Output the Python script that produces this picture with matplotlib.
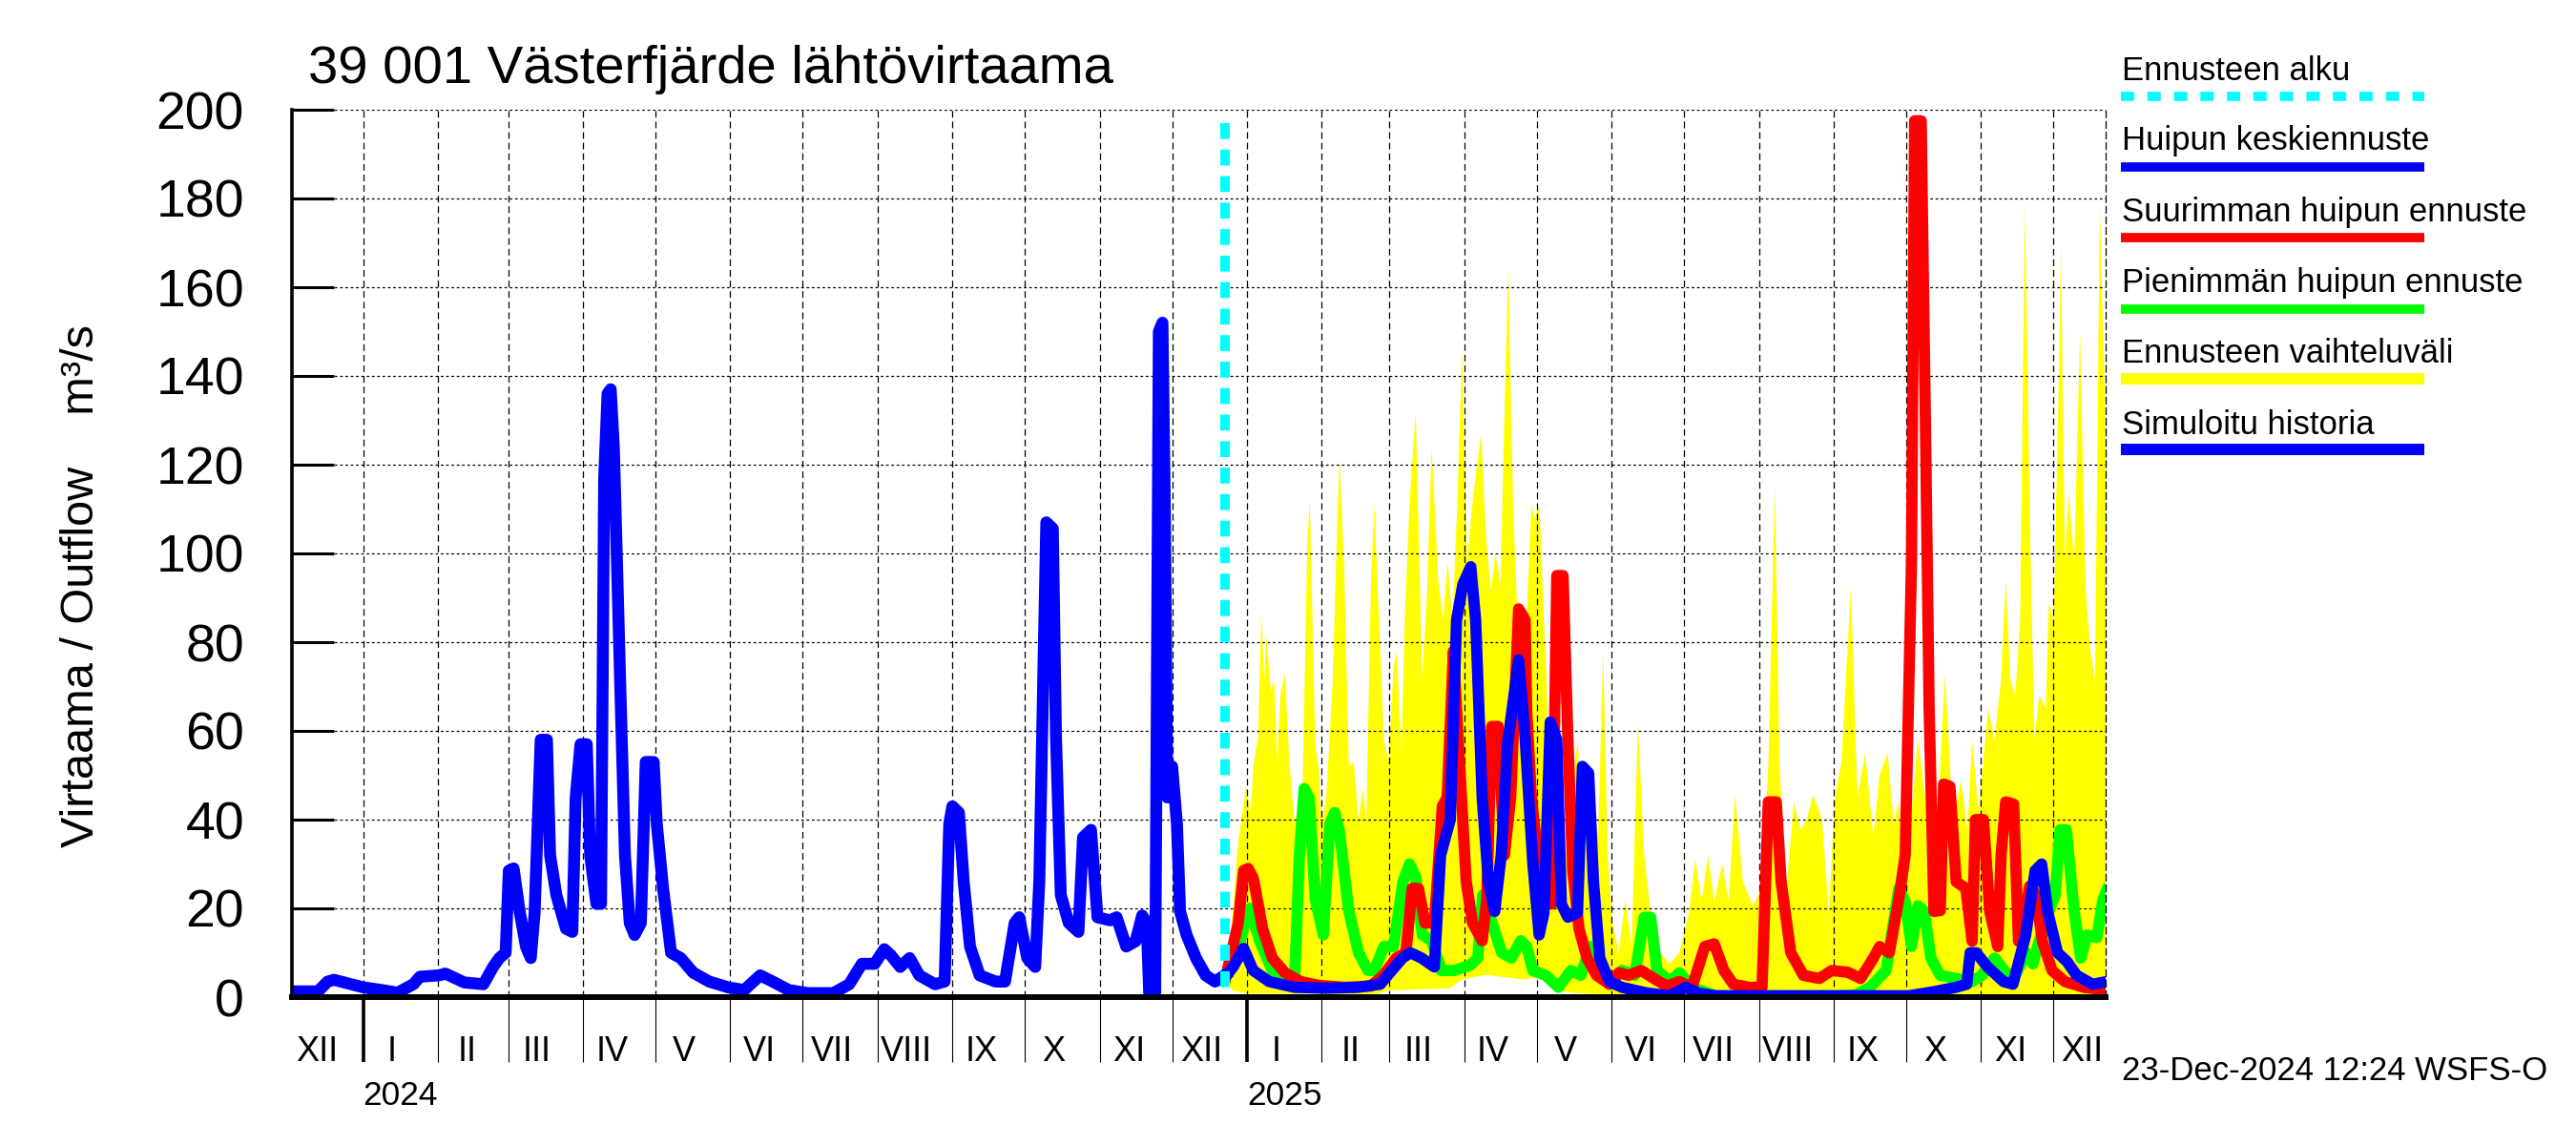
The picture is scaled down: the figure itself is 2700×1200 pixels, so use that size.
import numpy as np
import matplotlib
matplotlib.use('Agg')
import matplotlib.pyplot as plt
import matplotlib.dates as mdates
import matplotlib.transforms as mtransforms
from matplotlib.lines import Line2D
from datetime import datetime

plt.rcParams['font.family'] = ['Liberation Sans', 'DejaVu Sans']
plt.rcParams['lines.scale_dashes'] = False

# ---------------- data (day offsets from 2024-01-01, flow m3/s) ----------------
BASE = datetime(2024, 1, 1)

hist_day = [-30.5, -18.7, -14.7, -12.1, 0, 7.6, 14.2, 20.8, 23.5, 31.4, 34, 41.9, 49.8, 53.8,
            56.4, 59, 60.3, 62.3, 64.8, 67.4, 69.4, 71, 73.5, 76.1, 77.4, 80, 84, 86.6, 88,
            90, 92.6, 94, 96.6, 98.5, 99.8, 101.2, 102.5, 103.8, 105.1, 106.4, 108.4, 110.4,
            112.4, 115, 117, 120.3, 121.6, 124.2, 127.5, 131.5, 136.7, 143.3, 151.2, 157.8,
            164.4, 169.6, 176.2, 184.1, 194.7, 201.3, 206.5, 211.8, 215.8, 218.4, 222.4,
            226.3, 230.3, 236.8, 240.8, 242.7, 244, 246.7, 248.7, 251.3, 255.3, 261.9, 265.8,
            269.8, 271.7, 275, 278.3, 280, 282.9, 285.6, 286.9, 288.9, 292.2, 296.2, 298.1,
            301.4, 304.1, 309.3, 312, 316, 319.9, 322.6, 324.5, 325.5, 328, 329.5, 331, 332,
            333, 335, 337, 338.3, 341, 344.9, 348.9, 352.8, 357]
hist_flow = [1.3, 1.3, 3.5, 3.9, 2.2, 1.6, 1.0, 2.9, 4.6, 4.9, 5.3, 3.3, 2.9, 6.8,
             8.8, 10, 28.5, 29, 19.3, 11.4, 8.8, 19, 58, 58, 32, 23, 15.4, 14.7, 45,
             57, 57, 32, 21, 21, 117, 136, 137, 124, 98, 71.5, 32, 16.7,
             14, 16.7, 53, 53, 39, 24.5, 10, 8.8, 5.5, 3.5, 2.2, 1.6,
             4.9, 3.5, 1.6, 0.9, 0.9, 2.9, 7.5, 7.5, 10.8, 9.5, 6.8,
             8.8, 4.9, 2.9, 3.5, 39, 43, 41.6, 26, 11.4, 4.9, 3.5, 3.5,
             16.7, 18, 8.8, 6.8, 26, 107, 105.6, 58.7, 23, 16.7, 14.7, 36,
             37.7, 18, 17.3, 18, 11.4, 12.6, 18.4, 16.7, 1, 1, 150, 152, 110,
             45, 52, 39, 19.3, 14, 8.8, 4.9, 3.5, 5]

mean_day = [357, 360.5, 364.6, 368.6, 375.2, 385.7, 398.8, 412, 421.2, 425.2, 430.4, 433.7,
            438.3, 443.6, 446.2, 450.2, 452.8, 455.4, 458.7, 460.7, 463.4, 466, 468.6, 471.3,
            473.9, 478.5, 481, 484.4, 487, 489, 491.6, 494.3, 496.2, 498.9, 502.9, 504.9,
            507.5, 509.5, 512.1, 516.1, 521.3, 531.9, 541.1, 547.7, 553, 560, 600, 640,
            650.3, 659.5, 664.1, 665.5, 668, 672.7, 679.3, 683.2, 688.5, 692.4, 695.1,
            697.7, 701.7, 705.6, 709.6, 716.2, 722]
mean_flow = [4.5, 7, 11, 6, 3.5, 2.2, 2, 2.2, 2.9, 5.5, 8.8, 10,
             8.8, 6.8, 32, 40, 85, 93, 97, 85, 45, 26, 19.3, 32,
             57, 76, 60, 30, 14, 19, 62, 58, 21, 18, 19, 52,
             50.5, 26, 8.8, 3.5, 2.2, 0.9, 0.3, 2.2, 0.9, 0.3, 0.3, 0.3,
             1.2, 2.2, 2.9, 10, 10, 6.8, 3.5, 2.9, 14, 28.5, 30,
             19, 10, 8, 4.9, 2.9, 3.5]

max_day = [357, 362.4, 364.6, 366.5, 368.6, 372.5, 376.5, 381.7, 388.3, 396.2, 406.8, 417.3,
           422.5, 427.8, 431.8, 434.4, 437, 439.7, 443.6, 446.9, 448.9, 451.5, 454.1, 456.8,
           459.4, 463.4, 465.3, 467.3, 470, 472.6, 475.2, 478.5, 481.2, 481.8, 483.8, 486.4,
           489.7, 492.3, 494.3, 496.9, 498.9, 500.9, 503.5, 506.8, 510.8, 516.1, 520, 524,
           529.3, 534.5, 539.8, 545.1, 550.3, 555.6, 559.5, 563.5, 567.4, 574, 579.3, 581.9,
           585.2, 587.2, 591.2, 596.4, 603, 608.2, 614.8, 620.1, 625.4, 628, 632, 635.9,
           638.6, 641.2, 642.5, 645.2, 647.1, 648.5, 650.5, 653.1, 654.5, 657.1, 659.7,
           663.7, 666.3, 667.7, 671, 673.6, 676.9, 678.3, 680.2, 683.5, 685.5, 687.5, 690.1,
           692.8, 695.4, 699.4, 704.7, 712.6, 722]
max_flow = [4, 16.7, 28.5, 29, 26.8, 15.4, 8.8, 5.5, 3.5, 2.6, 2.2, 2.5,
            4.9, 8.8, 10, 24.5, 24.5, 16.7, 16.7, 43, 45, 78, 52, 26,
            16.7, 12.7, 22, 61, 61, 32, 45, 87.5, 85, 65, 45, 32,
            21, 21, 95, 95, 58, 28.5, 15.4, 8.8, 4.9, 2.9, 5.5, 4.9,
            6, 4.2, 2.5, 3.5, 2.2, 11.4, 12, 6, 2.9, 2.2, 2.2, 44,
            44, 26, 10, 4.9, 4.2, 6, 5.6, 4.2, 8.8, 11.4, 10, 22,
            32, 98, 197.5, 197.5, 124, 65, 19.3, 19.5, 48, 47.5, 26,
            24.5, 12.6, 40, 40, 19.3, 11.4, 32, 44, 43.5, 12.6, 15.4, 25,
            23, 12.6, 6, 3.5, 2.2, 1.6]

min_day = [357, 363.3, 366, 367.3, 371.2, 376.5, 381.7, 385.7, 387.7, 389.7, 391.7, 394.3,
           397.6, 400.3, 402.3, 404.2, 408.2, 412.2, 416.1, 418.7, 422.7, 426.7, 430.6, 433.3,
           435.9, 438.6, 442.5, 446.5, 451.8, 458.4, 461.6, 463.6, 467.5, 471.5, 475.5, 479.4,
           481.8, 484.4, 489.7, 495, 500.2, 504.2, 508.2, 512.1, 517.4, 521.3, 526.6, 530.5,
           533.2, 535.8, 541.1, 545.1, 550.3, 560, 610, 618, 624, 630.7, 635.9, 638.6,
           641.2, 643.9, 646.5, 649.2, 653.1, 659.7, 666.3, 670.3, 675.6, 679.6, 683.5,
           688.8, 691.5, 694.1, 698.1, 700.7, 702.7, 705.3, 708.6, 711.3, 713.9, 717.9,
           720.5, 722]
min_flow = [4, 12.7, 19, 20, 12.7, 6, 3.5, 3.5, 32, 47, 45, 22,
            14, 39, 41.6, 37.7, 19.3, 10, 6, 6, 11.4, 11.4, 26, 30,
            27, 14, 12.7, 6, 6, 7.2, 8.8, 23, 16.7, 10, 8.8, 12.7,
            11.4, 6, 4.9, 2.2, 6, 4.9, 11.4, 6, 3.5, 6, 4.9, 18,
            18, 6, 3.5, 5.5, 2.2, 0.3, 0.3, 0.5, 2.2, 6, 24.5, 21.5,
            11.4, 20.6, 19.3, 8.8, 4.9, 4.2, 3.5, 4.9, 8.8, 6, 4.2,
            10, 7.5, 12.7, 19.3, 23, 37.7, 37.7, 19.3, 8.8, 14, 13.4,
            22, 24]

band_up_day = [357, 359, 362.4, 365.6, 367.6, 368.6, 370.6, 371.9, 373.2, 373.9, 375.9, 377.2,
               378.5, 379.8, 381.7, 383.7, 385.7, 389, 391, 392, 394.3, 395.6, 396.9, 398.9,
               401.5, 404.2, 406.2, 408.2, 410.2, 412.2, 414.1, 415.4, 417.4, 418.7, 420.7,
               422.7, 424.7, 426.7, 428, 430, 431.3, 433.3, 435.9, 438.6, 440.6, 442.5, 445.2,
               447.2, 449.1, 451.1, 453.1, 455.1, 457.1, 459.7, 463, 465, 467, 469, 471, 472.3,
               474.2, 476.2, 478.1, 480.8, 481.8, 483.8, 485.1, 487.1, 489, 491, 495, 498.3,
               500.2, 502.9, 504.9, 508.2, 511.5, 513.5, 515.4, 517.4, 520, 522.7, 525.3,
               527.9, 530.5, 533.2, 537.1, 541.1, 545.1, 549, 551.7, 554.3, 556.9, 559.5,
               562.8, 565.5, 568.1, 571.4, 575.4, 579.3, 581.9, 584.6, 586.6, 589.2, 592.5,
               595.2, 597.8, 600.5, 603.1, 604.3, 606.9, 609.5, 612.2, 616.1, 618.8, 622,
               625.4, 628, 631.3, 633.9, 635.9, 638.6, 643.9, 647.9, 651.8, 655.1, 658.4,
               661.7, 664.4, 666.3, 669, 672.9, 675.6, 678.3, 680.2, 682.2, 684.2, 686.2,
               688.2, 690.1, 692.1, 694.1, 696.8, 698.1, 700.1, 702.1, 703.1, 704.7, 706.3,
               708.6, 711, 713.3, 715.3, 717.2, 719.2, 721.2, 722]
band_up = [4.5, 12, 35, 47.5, 41.6, 52, 58.7, 86.5, 71.5, 82, 69, 71.5,
           53, 68, 73, 52, 39, 45.6, 103, 112, 57, 52, 39, 45.6,
           71.5, 121.7, 98, 52, 53, 40, 47, 39, 95, 111, 85,
           58, 53, 74.5, 78, 55, 85, 111, 132, 71.5, 91.5, 124, 94,
           85, 98, 85, 111, 146, 98, 113, 127, 104, 91.5, 100, 93, 124,
           165, 111, 85, 82, 85, 111, 108, 111, 85, 58, 39, 32,
           45, 58, 39, 32, 37.7, 78, 32, 16.7, 10, 22, 11.4,
           62, 32, 19, 10, 7.5, 10, 19, 31, 21.5, 32, 21.5,
           30, 21.5, 45.6, 26, 20.6, 24.5, 52, 115, 52, 23, 44,
           37.7, 40, 45.6, 41.6, 39, 19, 45, 53, 92.5, 45, 55,
           36, 50, 55, 39, 44, 26, 58, 41, 39, 73, 39,
           49, 37.7, 58, 41.6, 65, 58, 71.5, 94, 71.5, 68, 85,
           179, 111, 58, 68, 65, 88.6, 85, 137, 170, 98, 113.5,
           98, 150, 91.5, 78, 71.5, 178, 137, 100]

band_lo_day = [357, 360, 366, 420, 424, 450, 455, 465, 480, 488, 492, 500, 515, 530, 722]
band_lo = [4, 1.5, 0.8, 0.6, 1.5, 2, 4, 5, 4, 4.5, 2, 1, 0.5, 0, 0]

forecast_start_day = 357
month_labels = ['XII', 'I', 'II', 'III', 'IV', 'V', 'VI', 'VII', 'VIII', 'IX', 'X', 'XI', 'XII',
                'I', 'II', 'III', 'IV', 'V', 'VI', 'VII', 'VIII', 'IX', 'X', 'XI', 'XII']
year_labels = ['2024', '2025']
legend_labels = ['Ennusteen alku', 'Huipun keskiennuste', 'Suurimman huipun ennuste',
                 'Pienimmän huipun ennuste', 'Ennusteen vaihteluväli', 'Simuloitu historia']
title = '39 001 Västerfjärde lähtövirtaama'
ylabel = 'Virtaama / Outflow    m³/s'
stamp = '23-Dec-2024 12:24 WSFS-O'

# ---------------- helpers ----------------
base_num = mdates.date2num(BASE)


def to_x(days):
    return base_num + np.asarray(days, dtype=float)


BLUE, RED, GREEN, YELLOW, CYAN = '#0000ff', '#ff0000', '#00ff00', '#ffff00', '#00ffff'

fig = plt.figure(figsize=(27, 12), dpi=100)
ax = fig.add_axes([306 / 2700, 1 - 1045 / 1200, (2207 - 306) / 2700, (1045 - 115) / 1200])

# band polygon
px = np.concatenate([to_x(band_up_day), to_x(band_lo_day)[::-1]])
py = np.concatenate([band_up, band_lo[::-1]])
ax.fill(px, py, color=YELLOW, lw=0, zorder=1)

LW = 8.5
ax.plot(to_x(min_day), min_flow, color=GREEN, lw=LW, zorder=2.1)
ax.plot(to_x(max_day), max_flow, color=RED, lw=LW, zorder=2.2)
ax.plot(to_x(mean_day), mean_flow, color=BLUE, lw=LW, zorder=2.3)
ax.plot(to_x(hist_day), hist_flow, color=BLUE, lw=9.0, zorder=2.3)
xs = to_x([forecast_start_day, forecast_start_day])
ax.plot(xs, [197, 0], color=CYAN, lw=7.2, ls=(0, (12, 8)), dash_capstyle='butt', zorder=4)

ax.set_xlim(to_x(-29.5), to_x(721.6))
ax.set_ylim(0, 200)

# ticks
month_starts = [datetime(2024 + m // 12, m % 12 + 1, 1) for m in range(24)]
major = [d for d in month_starts if d.month == 1]
minor = [d for d in month_starts if d.month != 1]
ax.set_xticks(mdates.date2num(major))
ax.set_xticks(mdates.date2num(minor), minor=True)
ax.tick_params(axis='x', which='both', direction='out', length=49, labelbottom=False)
ax.tick_params(axis='x', which='major', width=2.6)
ax.tick_params(axis='x', which='minor', width=0.8)
ax.set_yticks(np.arange(0, 201, 20))
ax.tick_params(axis='y', direction='in', length=32, width=2.2, labelsize=40, pad=36)
ax.set_axisbelow('line')
ax.grid(axis='x', which='both', color='black', lw=0.9, ls=(0, (5, 3)))
ax.grid(axis='y', which='major', color='black', lw=0.9, ls=(0, (2, 2)))

ax.spines['top'].set_visible(False)
ax.spines['right'].set_linestyle((0, (5, 3)))
ax.spines['right'].set_linewidth(0.9)
ax.spines['left'].set_linewidth(2.6)
ax.spines['bottom'].set_linewidth(4.3)
for s in ax.spines.values():
    s.set_zorder(5)

# month and year labels
trans = mtransforms.blended_transform_factory(ax.transData, ax.transAxes)
label_dates = [datetime(2023, 12, 13)] + [datetime(d.year, d.month, 13) for d in month_starts]
for d, lab in zip(label_dates, month_labels):
    ax.text(mdates.date2num(d), -0.0613, lab, transform=trans, ha='center', va='center',
            fontsize=26)
for d, lab in zip(major, year_labels):
    ax.text(mdates.date2num(d), -0.1108, lab, transform=trans, ha='left', va='center',
            fontsize=25.5)

# texts
fig.text(323 / 2700, 1 - 87.3 / 1200, title, fontsize=40.5, ha='left', va='baseline')
fig.text(86 / 2700, 1 - 614 / 1200, ylabel, rotation=90, fontsize=35, ha='center', va='center')
fig.text(2224 / 2700, 1 - 1123 / 1200, stamp, fontsize=25, ha='left', va='center')

# legend
text_base = [84, 157, 232, 306, 380, 455]
line_y = [101, 175, 249, 324, 397, 471]
styles = [dict(color=CYAN, lw=7, ls=(0, (10, 10)), dash_capstyle='butt'),
          dict(color=BLUE, lw=7, solid_capstyle='butt'),
          dict(color=RED, lw=7, solid_capstyle='butt'),
          dict(color=GREEN, lw=7, solid_capstyle='butt'),
          dict(color=YELLOW, lw=8.6, solid_capstyle='butt'),
          dict(color=BLUE, lw=8.6, solid_capstyle='butt')]
for lab, tb, ly, st in zip(legend_labels, text_base, line_y, styles):
    fig.text(2224 / 2700, 1 - tb / 1200, lab, fontsize=25, ha='left', va='baseline')
    fig.add_artist(Line2D([2223 / 2700, 2541 / 2700], [1 - ly / 1200, 1 - ly / 1200],
                          transform=fig.transFigure, **st))

fig.savefig('out.png', dpi=100)
